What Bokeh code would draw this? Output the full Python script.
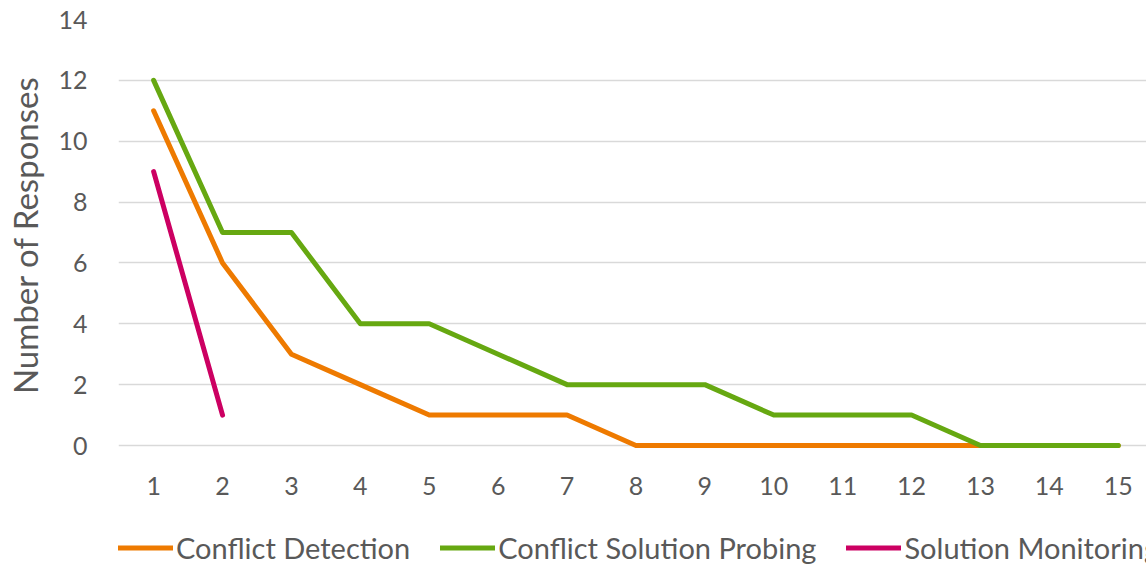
from bokeh.plotting import figure
from bokeh.layouts import column
from bokeh.models import Range1d, FixedTicker, Legend, LegendItem
from bokeh.embed import file_html
from bokeh.resources import INLINE

categories = list(range(1, 16))
conflict_detection = [11, 6, 3, 2, 1, 1, 1, 0, 0, 0, 0, 0, 0, 0, 0]
conflict_solution_probing = [12, 7, 7, 4, 4, 3, 2, 2, 2, 1, 1, 1, 0, 0, 0]
solution_monitoring_x = [1, 2]
solution_monitoring = [9, 1]
y_ticks = [0, 2, 4, 6, 8, 10, 12, 14]
series_names = ["Conflict Detection", "Conflict Solution Probing", "Solution Monitoring"]
series_colors = ["#EE7A00", "#66A811", "#CC0062"]

FONT = "Lato"
TXT = "#595959"

series = [(categories, conflict_detection),
          (categories, conflict_solution_probing),
          (solution_monitoring_x, solution_monitoring)]

# main chart
p = figure(frame_width=1028, frame_height=431, output_backend="svg", toolbar_location=None,
           x_range=Range1d(0.49, 15.41), y_range=Range1d(-0.164, 14.0),
           min_border_left=118, min_border_right=0, min_border_top=19, min_border_bottom=78)
p.outline_line_color = None
p.background_fill_color = "white"
p.border_fill_color = "white"

for (xs, ys), c in zip(series, series_colors):
    p.line(xs, ys, line_color=c, line_width=5, line_cap="round", line_join="round")

p.xaxis.ticker = FixedTicker(ticks=categories)
p.yaxis.ticker = FixedTicker(ticks=y_ticks)
for ax in (p.xaxis, p.yaxis):
    ax.axis_line_color = None
    ax.major_tick_line_color = None
    ax.minor_tick_line_color = None
    ax.major_tick_out = 0
    ax.major_tick_in = 0
    ax.minor_tick_out = 0
    ax.major_label_text_font = FONT
    ax.major_label_text_font_size = "25px"
    ax.major_label_text_color = TXT
p.xaxis.major_label_standoff = 26
p.yaxis.major_label_standoff = 31
p.yaxis.axis_label = "Number of Responses"
p.yaxis.axis_label_text_font = FONT
p.yaxis.axis_label_text_font_size = "33px"
p.yaxis.axis_label_text_font_style = "normal"
p.yaxis.axis_label_text_color = TXT
p.yaxis.axis_label_standoff = 10

p.xgrid.grid_line_color = None
p.ygrid.grid_line_color = "#D9D9D9"
p.ygrid.grid_line_width = 1.5

# legend strip (series drawn again out of view so the legend can show their line styles)
lg = figure(width=1146, height=38, output_backend="svg", toolbar_location=None,
            x_range=Range1d(0, 1), y_range=Range1d(100, 101),
            x_axis_location=None, y_axis_location=None,
            min_border_left=58, min_border_right=0, min_border_top=0, min_border_bottom=0)
lg.outline_line_color = None
lg.xgrid.grid_line_color = None
lg.ygrid.grid_line_color = None
lg.background_fill_color = "white"
lg.border_fill_color = "white"
items = []
for (xs, ys), c, name in zip(series, series_colors, series_names):
    r = lg.line(xs, ys, line_color=c, line_width=5, line_cap="round")
    items.append(LegendItem(label=name, renderers=[r]))

legend = Legend(items=items, orientation="horizontal", location="center_left")
legend.label_text_font = FONT
legend.label_text_font_size = "29px"
legend.label_text_color = TXT
legend.glyph_width = 55
legend.label_standoff = 3
legend.spacing = 30
legend.border_line_color = None
legend.background_fill_alpha = 0
legend.margin = 0
legend.padding = 0
lg.add_layout(legend, "center")

layout = column(p, lg, spacing=0)
open("out.html", "w").write(file_html(layout, INLINE))
